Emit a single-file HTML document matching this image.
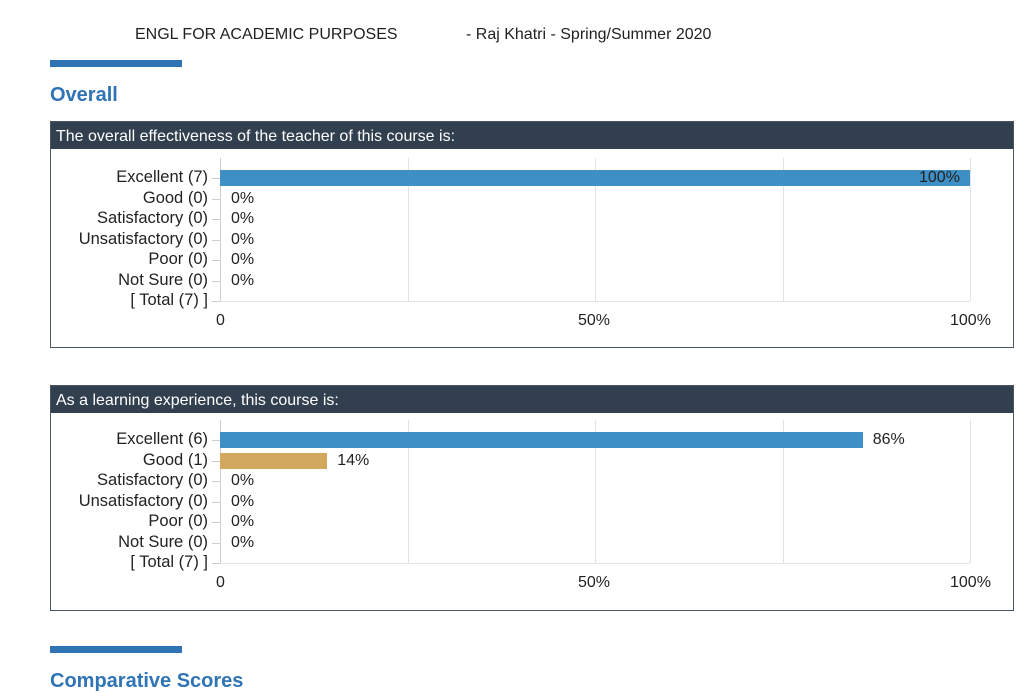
<!DOCTYPE html>
<html><head><meta charset="utf-8"><style>
body{margin:0;width:1024px;height:698px;background:#fff;position:relative;font-family:"Liberation Sans",sans-serif;color:#222;overflow:hidden}
.a{position:absolute;white-space:nowrap}
.rule{position:absolute;left:50px;width:132px;height:7px;background:#2f74b5}
.h2{position:absolute;left:50px;font-size:20px;font-weight:bold;color:#2f74b5}
.box{position:absolute;left:50px;width:962px;border:1px solid #4a5563;background:#fff}
.hdr{height:27px;background:#323f4f;color:#fff;font-size:16px;line-height:29px;padding-left:5px}
.lab{position:absolute;font-size:16.5px;text-align:right}
.tick{position:absolute;left:212px;width:8px;height:1px;background:#ccc}
.g{position:absolute;width:1px;background:#e2e2e2}
.pct{position:absolute;font-size:16px}
</style></head><body>
<div class="a" style="left:135px;top:26px;font-size:16px">ENGL FOR ACADEMIC PURPOSES</div>
<div class="a" style="left:466px;top:26px;font-size:16px">- Raj Khatri - Spring/Summer 2020</div>
<div class="rule" style="top:60px"></div>
<div class="h2" style="top:84px">Overall</div>

<div class="box" style="top:121px;height:225px">
<div class="hdr">The overall effectiveness of the teacher of this course is:</div>
</div>
<div class="rule" style="top:646px"></div>
<div class="h2" style="top:670px">Comparative Scores</div>

<div class="box" style="top:385px;height:224px">
<div class="hdr">As a learning experience, this course is:</div>
</div>

<div id="c"></div>
<script>
function chart(top,bars){
 let h='';
 const x0=220,x1=970,w=750;
 [0,.25,.5,.75,1].forEach((f,i)=>{h+=`<div class="g" style="left:${x0+f*w}px;top:${top}px;height:${143}px;${i==0?'background:#d0d0d0':''}"></div>`});
 h+=`<div class="g" style="left:${x0}px;top:${top+143}px;height:1px;width:${w}px"></div>`;
 const labs=['Excellent','Good','Satisfactory','Unsatisfactory','Poor','Not Sure'];
 for(let i=0;i<7;i++){
  const y=top+20+i*20.5;
  const t=i<6?`${labs[i]} (${bars[i][0]})`:`[ Total (${bars[6]}) ]`;
  h+=`<div class="a lab" style="top:${y-10}px;left:0;width:208px">${t}</div>`;
  h+=`<div class="tick" style="top:${y}px"></div>`;
  if(i<6){
   const p=bars[i][1];
   if(p>0){
    const c=i==0?'#3d8fc6':'#d1a85d';
    h+=`<div class="a" style="left:${x0}px;top:${y-8}px;width:${p/100*w}px;height:16px;background:${c}"></div>`;
    if(p==100)h+=`<div class="pct" style="left:${x1-51}px;top:${y-9}px">100%</div>`;
    else h+=`<div class="pct" style="left:${x0+p/100*w+10}px;top:${y-9}px">${p<15?14:86}%</div>`;
   } else h+=`<div class="pct" style="left:231px;top:${y-9}px">0%</div>`;
  }
 }
 h+=`<div class="pct" style="left:216px;top:${top+154}px">0</div>`;
 h+=`<div class="pct" style="left:578px;top:${top+154}px">50%</div>`;
 h+=`<div class="pct" style="left:950px;top:${top+154}px">100%</div>`;
 return h;
}
document.getElementById('c').innerHTML=chart(158,[[7,100],[0,0],[0,0],[0,0],[0,0],[0,0],7])+chart(420,[[6,85.7],[1,14.3],[0,0],[0,0],[0,0],[0,0],7]);
</script>
</body></html>
